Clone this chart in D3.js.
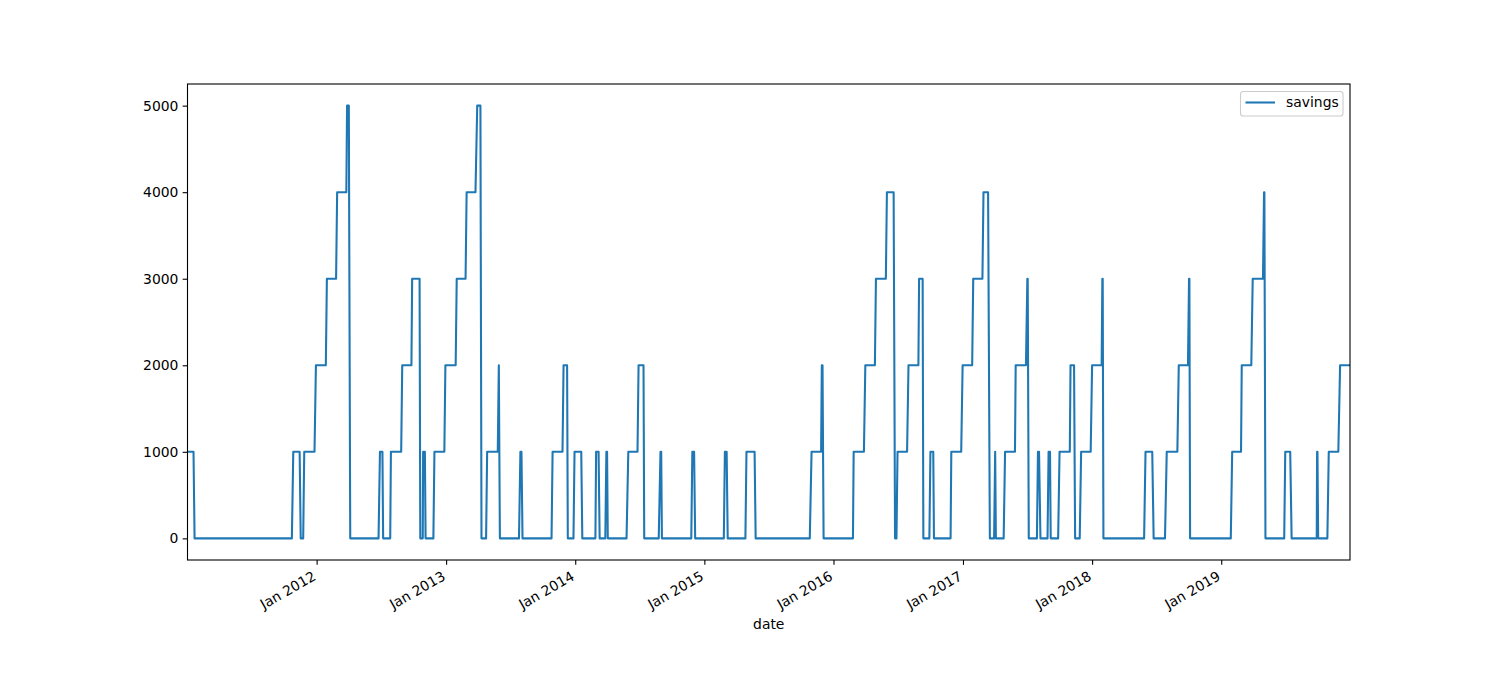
<!DOCTYPE html>
<html>
<head>
<meta charset="utf-8">
<script src="https://cdn.jsdelivr.net/npm/d3@7"></script>
<style>
  html, body { margin: 0; padding: 0; background: #fff; }
  svg { display: block; }
  text { font-family: "DejaVu Sans", sans-serif; fill: #000; }
</style>
</head>
<body>
<svg id="chart" width="1500" height="700"></svg>
<script>
// ---- data ----
const dates = [
"2011-01-01","2011-01-18","2011-01-21","2011-10-23","2011-10-27","2011-11-14","2011-11-17","2011-11-24","2011-11-27","2011-12-26",
"2011-12-30","2012-01-27","2012-01-30","2012-02-25","2012-02-28","2012-03-25","2012-03-27","2012-04-01","2012-04-05","2012-06-24",
"2012-06-28","2012-07-05","2012-07-07","2012-07-27","2012-07-29","2012-08-27","2012-08-30","2012-09-25","2012-09-27","2012-10-18",
"2012-10-20","2012-10-27","2012-10-28","2012-11-02","2012-11-04","2012-11-26","2012-11-29","2012-12-27","2012-12-30","2013-01-28",
"2013-01-31","2013-02-25","2013-02-28","2013-03-25","2013-03-30","2013-04-08","2013-04-11","2013-04-24","2013-04-27","2013-05-27",
"2013-05-30","2013-06-02","2013-07-26","2013-07-30","2013-08-02","2013-08-05","2013-10-26","2013-10-29","2013-11-26","2013-11-29",
"2013-12-09","2013-12-11","2013-12-27","2013-12-30","2014-01-18","2014-01-21","2014-02-27","2014-03-01","2014-03-08","2014-03-11",
"2014-03-27","2014-03-30","2014-04-01","2014-04-03","2014-05-26","2014-05-31","2014-06-26","2014-06-29","2014-07-13","2014-07-15",
"2014-08-25","2014-08-30","2014-09-01","2014-09-03","2014-11-25","2014-11-28","2014-12-03","2014-12-06","2015-02-25","2015-02-28",
"2015-03-05","2015-03-08","2015-04-27","2015-04-30","2015-05-23","2015-05-26","2015-10-26","2015-10-31","2015-11-27","2015-11-29",
"2015-12-01","2015-12-04","2016-02-25","2016-02-27","2016-03-27","2016-03-31","2016-04-27","2016-04-30","2016-05-28","2016-05-31",
"2016-06-19","2016-06-23","2016-06-27","2016-06-30","2016-07-27","2016-07-31","2016-08-28","2016-08-30","2016-09-09","2016-09-11",
"2016-09-28","2016-10-01","2016-10-09","2016-10-11","2016-11-27","2016-11-29","2016-12-27","2016-12-31","2017-01-27","2017-01-30",
"2017-02-25","2017-02-28","2017-03-13","2017-03-18","2017-03-30","2017-04-02","2017-04-04","2017-04-26","2017-04-30","2017-05-28",
"2017-05-30","2017-06-28","2017-07-02","2017-07-03","2017-07-06","2017-07-29","2017-08-01","2017-08-04","2017-08-08","2017-08-28",
"2017-08-31","2017-09-04","2017-09-06","2017-09-27","2017-10-01","2017-10-30","2017-11-01","2017-11-11","2017-11-14","2017-11-27",
"2017-12-01","2017-12-28","2018-01-01","2018-01-28","2018-01-30","2018-01-31","2018-02-02","2018-05-28","2018-06-01","2018-06-20",
"2018-06-24","2018-07-26","2018-07-31","2018-08-30","2018-09-03","2018-09-29","2018-10-02","2018-10-03","2018-10-05","2019-01-28",
"2019-02-01","2019-02-26","2019-02-28","2019-03-27","2019-03-31","2019-04-29","2019-05-02","2019-05-03","2019-05-06","2019-06-28",
"2019-07-01","2019-07-15","2019-07-19","2019-09-28","2019-09-29","2019-09-30","2019-10-02","2019-10-28","2019-11-01","2019-11-28",
"2019-12-03","2019-12-31"
];
const savings = [
1000,1000,0,0,1000,1000,0,0,1000,1000,
2000,2000,3000,3000,4000,4000,5000,5000,0,0,
1000,1000,0,0,1000,1000,2000,2000,3000,3000,
0,0,1000,1000,0,0,1000,1000,2000,2000,
3000,3000,4000,4000,5000,5000,0,0,1000,1000,
2000,0,0,1000,1000,0,0,1000,1000,2000,
2000,0,0,1000,1000,0,0,1000,1000,0,
0,1000,1000,0,0,1000,1000,2000,2000,0,
0,1000,1000,0,0,1000,1000,0,0,1000,
1000,0,0,1000,1000,0,0,1000,1000,2000,
2000,0,0,1000,1000,2000,2000,3000,3000,4000,
4000,0,0,1000,1000,2000,2000,3000,3000,0,
0,1000,1000,0,0,1000,1000,2000,2000,3000,
3000,4000,4000,0,0,1000,0,0,1000,1000,
2000,2000,3000,3000,0,0,1000,1000,0,0,
1000,1000,0,0,1000,1000,2000,2000,0,0,
1000,1000,2000,2000,3000,3000,0,0,1000,1000,
0,0,1000,1000,2000,2000,3000,3000,0,0,
1000,1000,2000,2000,3000,3000,4000,4000,0,0,
1000,1000,0,0,1000,1000,0,0,1000,1000,
2000,2000
];
const yTicks = [0, 1000, 2000, 3000, 4000, 5000];
const xTickYears = [2012, 2013, 2014, 2015, 2016, 2017, 2018, 2019];
const seriesName = "savings";
const xLabel = "date";

// ---- layout ----
const W = 1500, H = 700;
const L = 187.5, R = 1350, T = 84, B = 560;
const color = "#1f77b4";
const fs = 13.9;

const parse = d3.utcParse("%Y-%m-%d");
const data = dates.map((d, i) => ({ date: parse(d), value: savings[i] }));

const x = d3.scaleUtc()
  .domain(d3.extent(data, d => d.date))
  .range([L, R]);
const yMin = d3.min(savings), yMax = d3.max(savings), pad = (yMax - yMin) * 0.05;
const y = d3.scaleLinear().domain([yMin - pad, yMax + pad]).range([B, T]);

const svg = d3.select("#chart");
svg.append("rect").attr("width", W).attr("height", H).attr("fill", "#fff");

svg.append("clipPath").attr("id", "clip")
  .append("rect").attr("x", L).attr("y", T).attr("width", R - L).attr("height", B - T);

const line = d3.line().x(d => x(d.date)).y(d => y(d.value));
svg.append("path")
  .datum(data)
  .attr("clip-path", "url(#clip)")
  .attr("fill", "none")
  .attr("stroke", color)
  .attr("stroke-width", 2.08)
  .attr("stroke-linejoin", "round")
  .attr("stroke-linecap", "square")
  .attr("d", line);

const yAxis = svg.append("g")
  .attr("transform", `translate(${L},0)`)
  .call(d3.axisLeft(y).tickValues(yTicks).tickFormat(d3.format("d")).tickSize(4.86).tickPadding(4.2));
yAxis.select(".domain").remove();
yAxis.selectAll("line").attr("stroke", "#000").attr("stroke-width", 1.1);
yAxis.selectAll("text").attr("font-size", fs).attr("font-family", "DejaVu Sans").attr("fill", "#000");

const xTickDates = xTickYears.map(yr => new Date(Date.UTC(yr, 0, 1)));
const xAxis = svg.append("g")
  .attr("transform", `translate(0,${B})`)
  .call(d3.axisBottom(x).tickValues(xTickDates).tickFormat(d3.utcFormat("%b %Y")).tickSize(4.86).tickPadding(4.86));
xAxis.select(".domain").remove();
xAxis.selectAll("line").attr("stroke", "#000").attr("stroke-width", 1.1);
xAxis.selectAll("text")
  .attr("font-size", fs).attr("font-family", "DejaVu Sans").attr("fill", "#000")
  .attr("text-anchor", "end")
  .attr("dy", null)
  .attr("y", null)
  .attr("dominant-baseline", "hanging")
  .attr("transform", "translate(-5.5,10) rotate(-30)");

svg.append("rect")
  .attr("x", L).attr("y", T).attr("width", R - L).attr("height", B - T)
  .attr("fill", "none").attr("stroke", "#000").attr("stroke-width", 1.1);

svg.append("text")
  .attr("x", (L + R) / 2).attr("y", 629)
  .attr("text-anchor", "middle")
  .attr("font-size", fs)
  .text(xLabel);

const lg = svg.append("g");
lg.append("rect")
  .attr("x", 1240.5).attr("y", 91.5).attr("width", 102.5).attr("height", 24.5)
  .attr("rx", 2.8).attr("ry", 2.8)
  .attr("fill", "#fff").attr("fill-opacity", 0.8)
  .attr("stroke", "#cccccc").attr("stroke-width", 1.1);
lg.append("line")
  .attr("x1", 1245.5).attr("x2", 1275).attr("y1", 102.5).attr("y2", 102.5)
  .attr("stroke", color).attr("stroke-width", 2.08);
lg.append("text")
  .attr("x", 1286).attr("y", 102.3)
  .attr("dominant-baseline", "central")
  .attr("font-size", fs)
  .text(seriesName);
</script>
</body>
</html>
